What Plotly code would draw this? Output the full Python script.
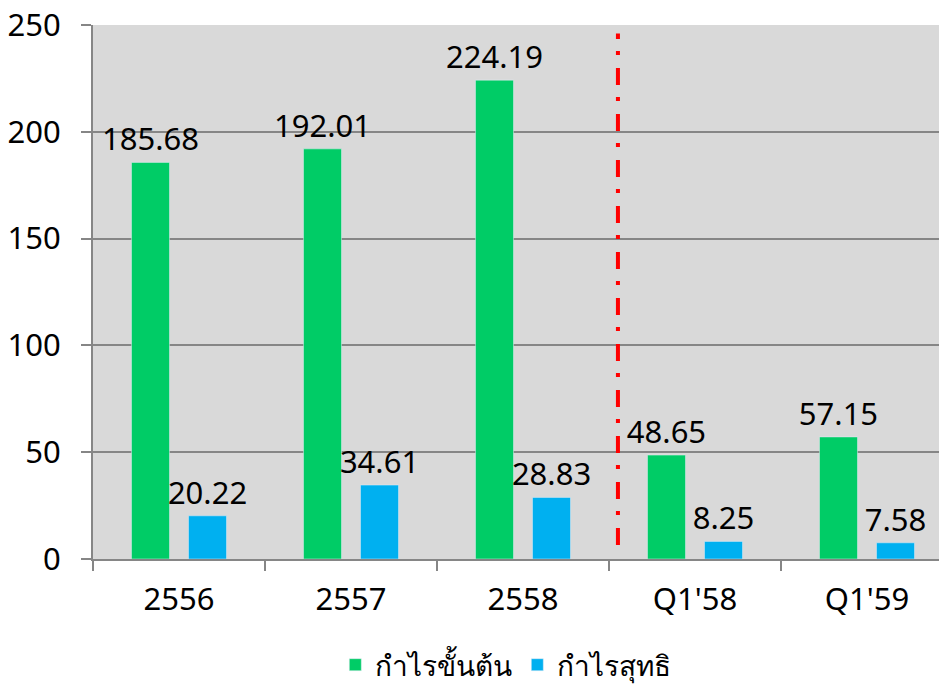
import plotly.graph_objects as go

categories = ['2556', '2557', '2558', "Q1'58", "Q1'59"]
gross_profit = [185.68, 192.01, 224.19, 48.65, 57.15]
net_profit = [20.22, 34.61, 28.83, 8.25, 7.58]
series_names = ['กำไรขั้นต้น', 'กำไรสุทธิ']
y_ticks = [0, 50, 100, 150, 200, 250]

font_main = 'Tahoma, Noto Sans, DejaVu Sans, sans-serif'
fsize = 31

fig = go.Figure()
fig.add_trace(go.Bar(name=series_names[0], x=categories, y=gross_profit,
                     marker_color='#00CC66', text=[f'{v:.2f}' for v in gross_profit],
                     textposition='outside', cliponaxis=False, constraintext='none',
                     textfont=dict(size=fsize, color='#000000')))
fig.add_trace(go.Bar(name=series_names[1], x=categories, y=net_profit,
                     marker_color='#00B0F0', text=[f'{v:.2f}' for v in net_profit],
                     textposition='outside', cliponaxis=False, constraintext='none',
                     textfont=dict(size=fsize, color='#000000')))

# dash-dot separator between yearly and quarterly figures
fig.add_shape(type='line', xref='x', yref='y', x0=2.552, x1=2.552, y0=6.5, y1=246,
              line=dict(color='#FF0000', width=4, dash='17px,13px,4px,12px'))

# page body adds 8px offset, so margins are shifted to compensate
fig.update_layout(
    width=947, height=686,
    margin=dict(l=85, r=2, t=17, b=135, autoexpand=False),
    paper_bgcolor='#FFFFFF',
    plot_bgcolor='#D9D9D9',
    font=dict(family=font_main, size=fsize, color='#000000'),
    barmode='group', bargap=0.337, bargroupgap=0.333,
    showlegend=True,
    legend=dict(orientation='h', x=0.48, xanchor='center', y=-0.1985, yanchor='middle',
                font=dict(size=28), tracegroupgap=0),
    xaxis=dict(range=[-0.5, 4.5], showline=True, linecolor='#868686', linewidth=2,
               ticks='outside', tickson='boundaries', ticklen=10, tickcolor='#868686',
               tickwidth=2, showgrid=False, ticklabelstandoff=12, automargin=False,
               ticklabeloverflow='allow'),
    yaxis=dict(range=[0, 250], tickvals=y_ticks, showline=True, linecolor='#868686',
               linewidth=2, ticks='outside', ticklen=10, tickcolor='#868686', tickwidth=2,
               gridcolor='#868686', gridwidth=2, zeroline=False, ticklabelstandoff=14,
               automargin=False, ticklabeloverflow='allow'),
)

fig.write_html('out.html')
